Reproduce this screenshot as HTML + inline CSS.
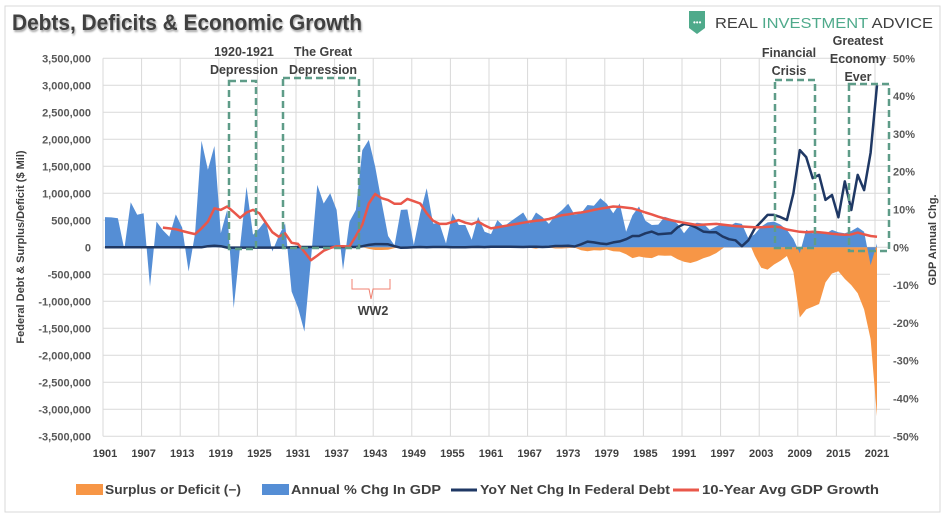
<!DOCTYPE html>
<html><head><meta charset="utf-8">
<style>
html,body{margin:0;padding:0;background:#fff;}
body{width:952px;height:519px;overflow:hidden;font-family:"Liberation Sans",sans-serif;}
svg text{font-family:"Liberation Sans",sans-serif;}
</style></head>
<body>
<svg id="chart" width="952" height="519" viewBox="0 0 952 519" xmlns="http://www.w3.org/2000/svg">
<rect x="5" y="6" width="935" height="506" fill="#fff" stroke="#d9d9d9"/>
<text x="12" y="30" font-size="22" font-weight="bold" fill="#404040" textLength="350" lengthAdjust="spacingAndGlyphs" style="text-shadow:1px 2px 2px rgba(0,0,0,0.35)">Debts, Deficits &amp; Economic Growth</text>
<g>
<path d="M689 11 L705 11 L705 28 L697 34 L689 28 Z" fill="#4faa8b"/>
<text x="693" y="25" font-size="8" fill="#fff">•••</text>
<text x="715" y="28" font-size="15" fill="#3f3f3f" textLength="218" lengthAdjust="spacingAndGlyphs">REAL <tspan fill="#4faa8b">INVESTMENT</tspan> ADVICE</text>
</g>
<g id="grid"></g>
<g id="axes"></g>
<g id="series"></g>
<g id="annot"></g>
<g id="legend"></g>
</svg>
<script>
const years = [];
for (let y = 1901; y <= 2021; y++) years.push(y);
const gdpChg = [8,7.9,7.7,-0.5,11.9,8.6,9.0,-10.4,6.8,4.5,2.8,8.7,5.2,-6.4,3.7,28.2,20.5,26.8,3.7,9.9,-16.1,0.2,16,3.3,5,7.2,-1.1,3,6.3,-11.7,-16,-22.3,-3.4,16.5,11.6,14.3,9.9,-6,6.8,9.9,25.7,28.4,21.3,12,3,0.5,9.9,10,0.6,9,15.6,6.3,6.3,1,9,5.9,5.9,2,8.1,4.1,3.5,7.2,5.5,6.8,8,9.2,6.3,9.2,8,6.2,8.5,9.8,11.5,8.6,9,11.2,11,13,11.5,9,11.6,4.1,8.5,10.8,7,5.9,6,8.1,7.5,6.2,3.7,5.8,6.5,6.3,4.6,5.5,6.2,5.6,6.5,6.2,2.4,3.5,5.5,6.6,6.8,6,4.6,2.2,-1.6,4.6,3.7,4.1,3.6,4.6,4,3.7,4.3,5.3,4.1,-4.7,1];
const avgYears = [];
for (let y = 1910; y <= 2021; y++) avgYears.push(y);
const avgGdp = [5.2,5.0,4.8,4.3,3.9,3.5,5,6.8,10.3,9.9,10.8,9.3,7.8,9.2,9.9,9,6.5,4,2.8,3.7,1.2,0.9,-1.2,-3.4,-2.2,-0.9,-0.2,0.3,0.3,0.2,3,6,11.6,14.1,13,12.5,11.5,11.5,12.8,12.2,11.6,9,7,6.2,6.2,6.7,7.2,6.5,6.1,6.8,5.8,5,5.3,5.6,5.9,6.2,6.5,6.8,7,7.2,7.5,8,8.5,8.7,9,9.2,9.5,9.9,10.2,10.5,10.8,10.7,10.5,10.3,9.8,9.2,8.7,8.1,7.6,7.2,6.8,6.5,6.2,5.9,6.0,6.1,6.2,6,5.8,5.6,5.5,5.4,5.3,5.3,5.4,5.5,5.3,4.7,4.4,4.1,4,4.1,4,3.8,3.6,3.4,3.3,3.4,3.9,3.4,3,2.8];
const debtChg = [0,0,0,0,0,0,0,0,0,0,0,0,0,0,0,0,20000,30000,20000,-5000,-5000,-5000,-5000,-5000,-5000,-5000,-5000,-5000,-5000,0,5000,5000,5000,5000,5000,5000,5000,5000,5000,5000,20000,45000,60000,60000,55000,20000,-10000,-5000,0,5000,0,5000,5000,5000,0,0,0,5000,8000,3000,10000,10000,10000,10000,8000,5000,10000,12000,5000,10000,25000,25000,30000,15000,55000,105000,90000,70000,60000,90000,110000,150000,210000,210000,260000,290000,240000,250000,260000,370000,432000,413000,360000,290000,280000,278000,200000,150000,130000,20000,130000,350000,475000,600000,600000,560000,506000,1000000,1800000,1670000,1280000,1340000,877000,969000,556000,1220000,691000,1340000,1060000,1750000,3000000];
const deficit = [0,0,0,0,0,0,0,0,0,0,0,0,0,0,0,0,0,0,0,0,0,0,0,0,0,0,0,0,0,0,0,0,0,0,0,0,0,0,0,0,0,-30000,-50000,-50000,-47000,-15000,0,0,0,0,0,0,0,0,0,0,0,0,-10000,0,0,-7000,-5000,-6000,-1000,-4000,-9000,-25000,3000,-3000,-23000,-23000,-15000,-6000,-53000,-74000,-54000,-59000,-41000,-74000,-79000,-128000,-200000,-170000,-190000,-200000,-150000,-155000,-153000,-221000,-269000,-290000,-255000,-203000,-164000,-107000,-22000,69000,126000,236000,128000,-158000,-378000,-413000,-318000,-248000,-161000,-459000,-1300000,-1150000,-1100000,-1050000,-650000,-485000,-442000,-585000,-700000,-850000,-1150000,-1700000,-3130000];
const leftTicks = [3500000,3000000,2500000,2000000,1500000,1000000,500000,0,-500000,-1000000,-1500000,-2000000,-2500000,-3000000,-3500000];
const rightTicks = [50,40,30,20,10,0,-10,-20,-30,-40,-50];
const xTickYears = [1901,1907,1913,1919,1925,1931,1937,1943,1949,1955,1961,1967,1973,1979,1985,1991,1997,2003,2009,2015,2021];

const NS = 'http://www.w3.org/2000/svg';
const X0 = 105, X1 = 877, Y_TOP = 58.3, Y_ZERO = 247.3, Y_BOT = 436.3;
const PL = 103, PR = 890;
function xs(yr){ return X0 + (yr - 1901) * (X1 - X0) / 120; }
function yl(v){ return Y_ZERO - v * (Y_ZERO - Y_TOP) / 3500000; }
function yr(p){ return Y_ZERO - p * (Y_ZERO - Y_TOP) / 50; }
function mk(tag, attrs, parent){ const e = document.createElementNS(NS, tag); for (const k in attrs) e.setAttribute(k, attrs[k]); parent.appendChild(e); return e; }

const grid = document.getElementById('grid');
const axes = document.getElementById('axes');
leftTicks.forEach(v => {
  const l = mk('line', {x1:PL, x2:PR, y1:yl(v), y2:yl(v), stroke:'#d9d9d9', 'stroke-width':1}, grid);
  
  
  const t = mk('text', {x:91, y:yl(v)+4, 'text-anchor':'end', 'font-size':11, 'font-weight':'bold', fill:'#595959'}, axes);
  t.textContent = v.toLocaleString('en-US');
  
  
});
xTickYears.forEach(y => {
  const l = mk('line', {x1:xs(y)-2, x2:xs(y)-2, y1:Y_TOP, y2:Y_BOT, stroke:'#d9d9d9', 'stroke-width':1}, grid);
  
  
  const t = mk('text', {x:xs(y), y:457, 'text-anchor':'middle', 'font-size':11, 'font-weight':'bold', fill:'#404040'}, axes);
  t.textContent = y;
  
  
});
rightTicks.forEach(p => {
  const t = mk('text', {x:893, y:yr(p)+4, 'font-size':11, 'font-weight':'bold', fill:'#595959'}, axes);
  t.textContent = p + '%';
  
  
});
const lt = mk('text', {x:0, y:0, 'text-anchor':'middle', 'font-size':11, 'font-weight':'bold', fill:'#404040', transform:'translate(24,247) rotate(-90)'}, axes);
lt.textContent = 'Federal Debt & Surplus/Deficit ($ Mil)';


const rt = mk('text', {x:0, y:0, 'text-anchor':'middle', 'font-size':11, 'font-weight':'bold', fill:'#404040', transform:'translate(936,240) rotate(-90)'}, axes);
rt.textContent = 'GDP Annual Chg.';



const series = document.getElementById('series');
function areaPath(xsArr, ysArr){
  let d = 'M' + xsArr[0].toFixed(1) + ',' + Y_ZERO;
  for (let i = 0; i < xsArr.length; i++) d += ' L' + xsArr[i].toFixed(1) + ',' + ysArr[i].toFixed(1);
  d += ' L' + xsArr[xsArr.length-1].toFixed(1) + ',' + Y_ZERO + ' Z';
  return d;
}
function linePath(xsArr, ysArr){
  return xsArr.map((x,i)=>(i?'L':'M')+x.toFixed(1)+','+ysArr[i].toFixed(1)).join(' ');
}
const defArea = mk('path', {d: areaPath(years.map(xs), deficit.map(yl)), fill:'#f79646'}, series);


const gdpArea = mk('path', {d: areaPath(years.map(xs), gdpChg.map(yr)), fill:'#558ed5'}, series);


const debtLine = mk('path', {d: linePath(years.map(xs), debtChg.map(yl)), fill:'none', stroke:'#1f3864', 'stroke-width':2.5, 'stroke-linejoin':'round'}, series);


const avgLine = mk('path', {d: linePath(avgYears.map(xs), avgGdp.map(yr)), fill:'none', stroke:'#e9574a', 'stroke-width':2.5, 'stroke-linejoin':'round'}, series);



const annot = document.getElementById('annot');
const boxes = [
  {n:'depression-1920-box', x:229, y:81, w:27, h:168, lines:['1920-1921','Depression'], tx:244, ty:56},
  {n:'great-depression-box', x:283, y:78, w:76, h:170, lines:['The Great','Depression'], tx:323, ty:56},
  {n:'financial-crisis-box', x:775, y:80, w:40, h:168, lines:['Financial','Crisis'], tx:789, ty:57},
  {n:'greatest-economy-box', x:849, y:84, w:40, h:167, lines:['Greatest','Economy','Ever'], tx:858, ty:45}
];
boxes.forEach(b => {
  const r = mk('rect', {x:b.x, y:b.y, width:b.w, height:b.h, fill:'none', stroke:'#5e9c88', 'stroke-width':2.5, 'stroke-dasharray':'7,4'}, annot);
  
  
  b.lines.forEach((s,i) => {
    const t = mk('text', {x:b.tx, y:b.ty + i*18, 'text-anchor':'middle', 'font-size':12.5, 'font-weight':'bold', fill:'#404040'}, annot);
    t.textContent = s;
    
    
  });
});
const brace = mk('path', {d:'M352,279 L352,289 L369,289 L371,299 L373,289 L390,289 L390,279', fill:'none', stroke:'#f08070', 'stroke-width':1}, annot);


const ww = mk('text', {x:373, y:315, 'text-anchor':'middle', 'font-size':12.5, 'font-weight':'bold', fill:'#404040'}, annot);
ww.textContent = 'WW2';



const legend = document.getElementById('legend');
const items = [
  {n:'legend-surplus-deficit', x:76, type:'box', c:'#f79646', t:'Surplus or Deficit (\u2212)', w:136},
  {n:'legend-gdp-change', x:262, type:'box', c:'#558ed5', t:'Annual % Chg In GDP', w:150},
  {n:'legend-debt-change', x:451, type:'line', c:'#1f3864', t:'YoY Net Chg In Federal Debt', w:190},
  {n:'legend-avg-gdp', x:673, type:'line', c:'#e9574a', t:'10-Year Avg GDP Growth', w:177}
];
items.forEach(it => {
  const g = mk('g', {}, legend);
  
  
  if (it.type === 'box') mk('rect', {x:it.x, y:484, width:27, height:11, fill:it.c}, g);
  else mk('line', {x1:it.x, x2:it.x+26, y1:490, y2:490, stroke:it.c, 'stroke-width':3}, g);
  const t = mk('text', {x:it.x+29, y:494, 'font-size':12.5, 'font-weight':'bold', fill:'#404040', textLength:it.w, lengthAdjust:'spacingAndGlyphs'}, g);
  t.textContent = it.t;
});
</script>
</body></html>
